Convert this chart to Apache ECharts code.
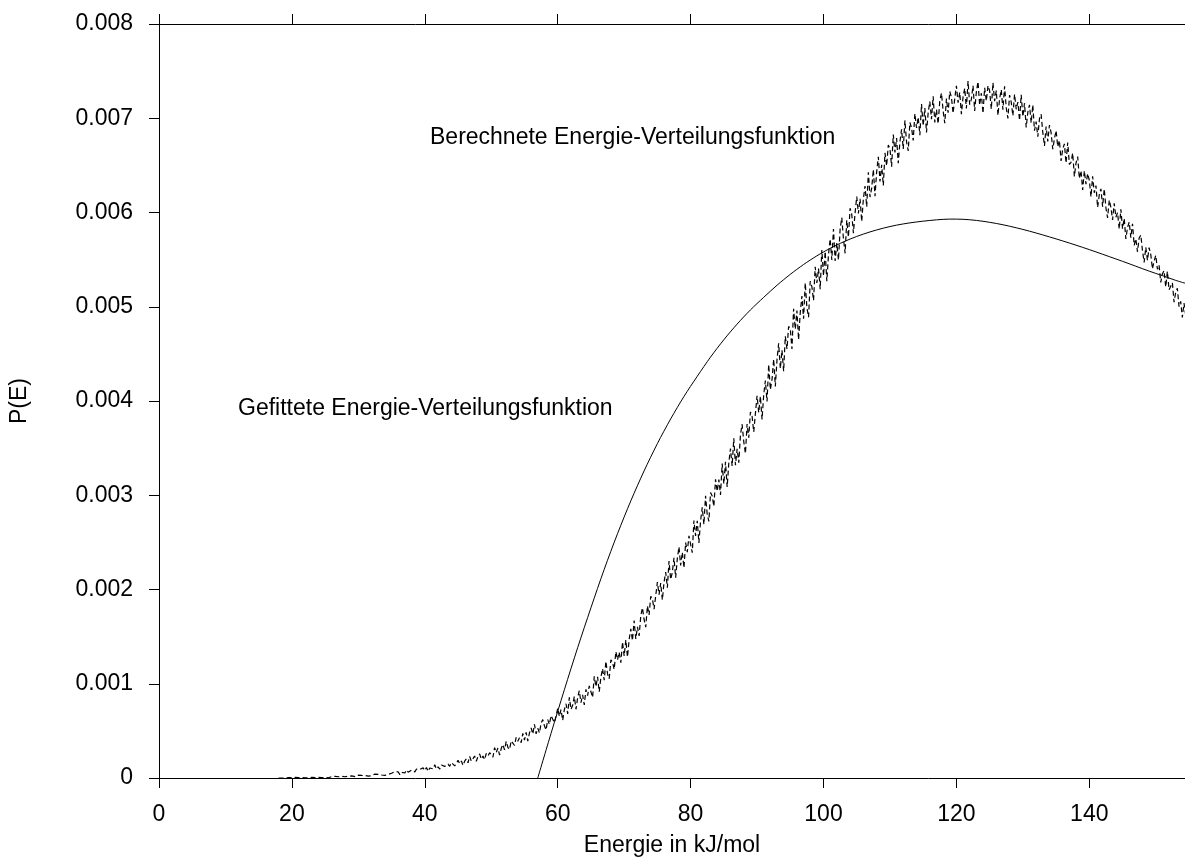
<!DOCTYPE html>
<html>
<head>
<meta charset="utf-8">
<script src="https://cdn.jsdelivr.net/npm/echarts@6/dist/echarts.min.js"></script>
<style>
html,body{margin:0;padding:0;background:#fff;}
#chart{width:1185px;height:862px;}
</style>
</head>
<body>
<div id="chart"></div>
<script>
// Computed (noisy) distribution: P(E) in units of 1e-6, sampled from E_START in steps of E_STEP (kJ/mol)
const E_START = 18;
const E_STEP = 0.25;
const P_UNIT = 1e-6;
const calcP = [
0,1,0,2,0,1,3,1,
3,0,6,2,5,0,4,7,2,8,3,1,7,6,3,9,6,8,4,11,
4,12,2,10,15,8,18,7,13,7,17,20,13,8,19,13,22,20,14,20,
30,19,27,13,26,33,20,41,25,30,41,24,39,47,32,41,28,47,39,51,
51,31,68,48,64,36,61,75,53,85,62,52,84,78,65,95,79,91,72,107,
78,111,70,106,127,97,140,95,119,95,138,153,123,102,148,124,163,154,128,155,
187,152,181,134,179,204,161,230,179,196,233,178,227,256,200,233,195,260,233,269,
272,220,322,270,318,244,313,355,298,389,326,302,393,380,345,430,390,426,374,473,
402,484,390,479,532,467,569,469,529,478,580,620,554,510,619,568,663,647,588,656,
740,654,727,611,724,788,681,855,728,772,865,729,852,926,799,883,776,940,873,977,
966,855,1080,969,1074,915,1068,1161,1038,1239,1104,1053,1254,1227,1152,1341,1254,1335,1224,1443,
1294,1464,1284,1468,1582,1458,1670,1476,1604,1508,1720,1806,1682,1600,1826,1730,1928,1902,1792,1934,
2078,1946,2069,1889,2076,2184,2019,2303,2106,2182,2337,2125,2328,2452,2255,2395,2230,2498,2397,2569,
2554,2391,2732,2569,2730,2495,2728,2871,2690,2995,2796,2723,3028,2991,2882,3169,3042,3167,3004,3336,
3120,3354,3088,3342,3496,3310,3604,3318,3492,3346,3640,3754,3568,3442,3756,3610,3884,3838,3672,3866,
4056,3877,4050,3805,4066,4217,3994,4387,4120,4227,4444,4155,4438,4611,4344,4539,4316,4687,4552,4791,
4769,4552,4979,4762,4959,4650,4939,5113,4873,5254,4991,4889,5270,5214,5066,5424,5253,5404,5187,5603,
5328,5587,5271,5553,5720,5496,5824,5485,5675,5497,5825,5946,5722,5567,5918,5740,6045,5982,5781,5994,
6168,5989,6146,5904,6145,6281,6060,6427,6164,6258,6457,6173,6435,6592,6329,6507,6286,6632,6495,6715,
6677,6487,6828,6638,6789,6523,6750,6883,6673,6977,6748,6653,6956,6899,6765,7050,6897,7011,6820,7152,
6918,7109,6849,7058,7176,6989,7233,6956,7092,6941,7185,7268,7080,6947,7209,7058,7284,7223,7053,7208,
7344,7166,7276,7044,7226,7318,7104,7394,7144,7200,7346,7078,7278,7388,7138,7266,7052,7324,7182,7346,
7291,7096,7377,7182,7293,7030,7209,7303,7091,7338,7109,6999,7246,7170,7026,7256,7095,7172,6977,7250,
7016,7160,6903,7063,7142,6950,7141,6869,6964,6804,6995,7043,6850,6706,6913,6753,6928,6848,6671,6783,
6870,6698,6765,6548,6675,6728,6525,6743,6510,6533,6630,6383,6525,6593,6360,6443,6240,6443,6300,6413,
6342,6167,6384,6209,6286,6055,6188,6251,6062,6251,6048,5943,6132,6055,5922,6097,5950,5999,5824,6034,
5828,5937,5720,5842,5898,5734,5881,5652,5721,5583,5730,5761,5596,5471,5631,5493,5627,5554,5402,5485,
5546,5398,5442,5259,5351,5383,5211,5376,5180,5188,5256,5048,5153,5197,5001,5057,4886,5038,4914
];

// Fitted distribution, P(E) in units of 1e-6
const fitE = [57, 59, 61, 63, 65, 67, 69, 71, 73, 75, 77, 79, 81, 83, 85, 87, 89, 91, 93, 95, 97, 99, 101, 103, 105, 107, 109, 111, 113, 115, 117, 119, 121, 123, 125, 127, 129, 131, 133, 135, 137, 139, 141, 143, 145, 147, 149, 151, 153, 154.4];
const fitP = [0, 474, 936, 1382, 1806, 2214, 2592, 2940, 3258, 3548, 3810, 4048, 4262, 4466, 4650, 4816, 4966, 5100, 5228, 5344, 5448, 5540, 5620, 5688, 5746, 5794, 5834, 5866, 5890, 5908, 5922, 5930, 5928, 5916, 5896, 5870, 5838, 5802, 5762, 5720, 5676, 5630, 5582, 5532, 5482, 5430, 5378, 5330, 5280, 5250];

const xTicks = [0, 20, 40, 60, 80, 100, 120, 140];
const X_MIN = 0, X_MAX = 154.4;
const Y_MIN = 0, Y_MAX = 0.008, Y_STEP = 0.001;

const labelCalc = 'Berechnete Energie-Verteilungsfunktion';
const labelFit = 'Gefittete Energie-Verteilungsfunktion';
const xName = 'Energie in kJ/mol';
const yName = 'P(E)';

const FONT = 'Liberation Sans, Arial, Helvetica, sans-serif';
const FS = 23;

const calcData = calcP.map((v, i) => [E_START + i * E_STEP, v * P_UNIT]);
const fitData = fitE.map((e, i) => [e, fitP[i] * P_UNIT]);

const chart = echarts.init(document.getElementById('chart'), null, {renderer: 'canvas'});
const axisLineStyle = {color: '#000', width: 1};
chart.setOption({
  animation: false,
  backgroundColor: '#fff',
  grid: {left: 158, right: 0, top: 24, bottom: 84, containLabel: false},
  xAxis: [{
    type: 'value', min: X_MIN, max: X_MAX, interval: 20,
    position: 'bottom',
    name: xName, nameLocation: 'middle', nameGap: 56,
    nameTextStyle: {fontFamily: FONT, fontSize: FS, color: '#000'},
    axisLine: {show: true, onZero: false, lineStyle: axisLineStyle},
    axisTick: {show: true, inside: false, length: 10, lineStyle: axisLineStyle, customValues: xTicks},
    axisLabel: {show: true, margin: 25, fontFamily: FONT, fontSize: FS, color: '#000', customValues: xTicks},
    splitLine: {show: false}
  }, {
    type: 'value', min: X_MIN, max: X_MAX, interval: 20,
    position: 'top',
    axisLine: {show: true, onZero: false, lineStyle: axisLineStyle},
    axisTick: {show: true, inside: false, length: 10, lineStyle: axisLineStyle, customValues: xTicks},
    axisLabel: {show: false},
    splitLine: {show: false}
  }],
  yAxis: [{
    type: 'value', min: Y_MIN, max: Y_MAX, interval: Y_STEP,
    name: yName, nameLocation: 'middle', nameGap: 128, nameRotate: 90,
    nameTextStyle: {fontFamily: FONT, fontSize: FS, color: '#000'},
    axisLine: {show: true, onZero: false, lineStyle: axisLineStyle},
    axisTick: {show: true, inside: false, length: 10, lineStyle: axisLineStyle},
    axisLabel: {show: true, margin: 26, fontFamily: FONT, fontSize: FS, color: '#000',
      formatter: v => (v === 0 ? '0' : v.toFixed(3))},
    splitLine: {show: false}
  }],
  series: [{
    type: 'line', name: labelCalc, data: calcData,
    showSymbol: false, symbol: 'none', clip: true,
    lineStyle: {color: '#000', width: 1.2, type: [5, 3]}
  }, {
    type: 'line', name: labelFit, data: fitData, smooth: 0.3,
    showSymbol: false, symbol: 'none', clip: true,
    lineStyle: {color: '#000', width: 1}
  }],
  graphic: [{
    type: 'text', left: 430, top: 126,
    style: {text: labelCalc, font: FS + 'px ' + FONT, fill: '#000'}
  }, {
    type: 'text', left: 238, top: 397,
    style: {text: labelFit, font: FS + 'px ' + FONT, fill: '#000'}
  }]
});
</script>
</body>
</html>
